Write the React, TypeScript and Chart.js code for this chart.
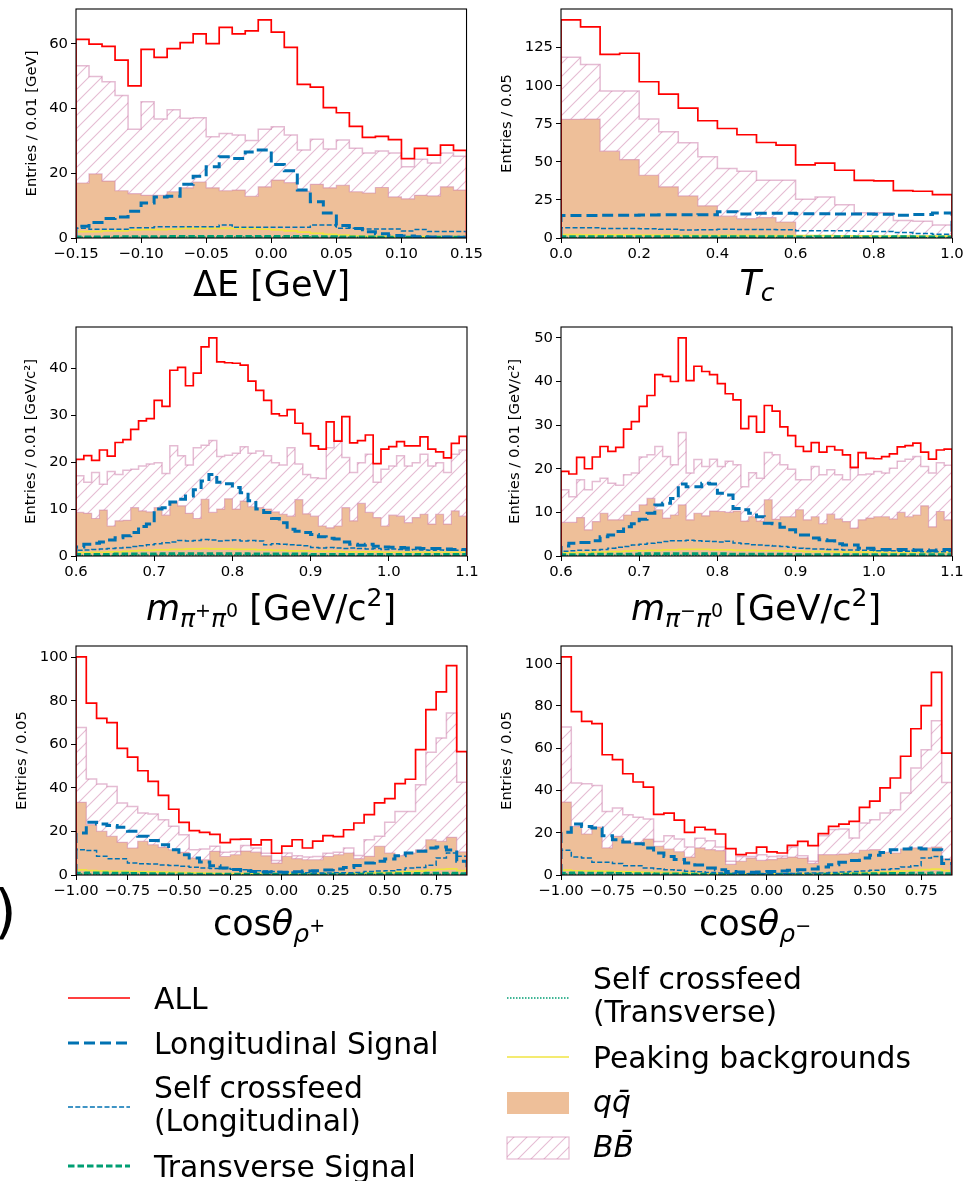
import React, { useEffect, useRef } from "react";
import { Chart, registerables } from "chart.js";
Chart.register(...registerables);

const FONT = "DejaVu Sans";
Chart.defaults.font.family = FONT;
Chart.defaults.color = "#000";

const RED = "#ff0000";
const BLUE = "#0072b2";
const GREEN = "#009e73";
const YELLOW = "#f0e442";
const QQ_FILL = "rgba(213,94,0,0.4)";
const BB_EDGE = "rgba(204,121,167,0.5)";

// ---------------- Panel 1: ΔE ----------------
const deRange = [-0.15, 0.15];
const deXTicks = [-0.15, -0.1, -0.05, 0, 0.05, 0.1, 0.15];
const deXLabels = ["−0.15", "−0.10", "−0.05", "0.00", "0.05", "0.10", "0.15"];
const deYTicks = [0, 20, 40, 60];
const deAll = [61.4, 59.9, 59.2, 55.0, 47.0, 58.3, 55.8, 58.5, 60.4, 63.1, 60.1, 65.1, 63.1, 64.0, 67.4, 63.6, 58.9, 47.5, 46.6, 40.3, 38.7, 34.5, 31.1, 31.4, 30.4, 24.5, 27.7, 25.6, 28.7, 27.1];
const deBBStack = [53.2, 49.9, 48.3, 44.0, 33.6, 42.1, 36.8, 39.6, 37.0, 37.2, 31.3, 32.3, 31.8, 30.1, 33.6, 34.4, 31.8, 27.2, 30.5, 27.5, 30.3, 27.7, 26.3, 26.9, 26.3, 22.0, 24.3, 23.2, 26.3, 25.3];
const deQQ = [17.0, 19.8, 17.6, 14.6, 13.7, 13.2, 13.2, 14.3, 15.5, 17.3, 15.5, 14.6, 14.8, 12.9, 15.8, 17.9, 17.1, 14.5, 16.6, 15.5, 16.3, 14.3, 13.9, 15.6, 12.7, 12.1, 13.2, 13.0, 15.8, 14.8];
const deLong = [3.6, 4.8, 6.0, 6.5, 8.3, 10.8, 12.7, 12.9, 16.6, 19.1, 22.0, 25.1, 24.6, 26.6, 27.2, 22.7, 20.8, 14.8, 11.2, 7.7, 3.9, 2.9, 1.9, 1.3, 0.8, 0.6, 0.4, 0.3, 0.3, 0.2];
const deScfL = [3.0, 2.7, 2.7, 2.7, 3.2, 3.2, 3.5, 3.5, 3.5, 3.5, 3.5, 4.0, 3.3, 3.3, 3.3, 3.3, 3.3, 3.3, 4.0, 4.0, 3.0, 3.0, 2.8, 2.8, 2.8, 2.2, 2.6, 2.0, 2.0, 2.0];
const deTrans = [0.3, 0.3, 0.3, 0.4, 0.4, 0.4, 0.4, 0.5, 0.5, 0.5, 0.5, 0.5, 0.5, 0.5, 0.5, 0.5, 0.5, 0.5, 0.4, 0.4, 0.3, 0.3, 0.3, 0.2, 0.2, 0.2, 0.2, 0.2, 0.2, 0.2];
const deScfT = [0.2, 0.2, 0.2, 0.2, 0.2, 0.2, 0.2, 0.2, 0.3, 0.3, 0.3, 0.3, 0.3, 0.3, 0.3, 0.3, 0.3, 0.3, 0.2, 0.2, 0.2, 0.2, 0.2, 0.2, 0.2, 0.1, 0.1, 0.1, 0.1, 0.1];
const dePeak = [2.0, 2.0, 2.2, 2.2, 2.5, 2.6, 2.6, 2.7, 3.0, 3.0, 3.0, 3.0, 3.0, 3.0, 2.7, 2.5, 2.2, 1.8, 1.4, 1.1, 0.9, 0.7, 0.5, 0.5, 0.5, 0.4, 0.4, 0.4, 0.4, 0.4];

// ---------------- Panel 2: T_c ----------------
const tcRange = [0, 1];
const tcXTicks = [0, 0.2, 0.4, 0.6, 0.8, 1.0];
const tcXLabels = ["0.0", "0.2", "0.4", "0.6", "0.8", "1.0"];
const tcYTicks = [0, 25, 50, 75, 100, 125];
const tcAll = [143.2, 138.6, 120.6, 121.3, 102.6, 94.5, 85.3, 77.0, 71.9, 67.8, 62.7, 61.0, 48.0, 49.1, 44.5, 37.9, 37.5, 31.1, 30.7, 28.5];
const tcBBStack = [118.6, 114.0, 96.5, 96.5, 78.1, 69.7, 62.5, 53.3, 45.6, 43.9, 37.9, 37.9, 25.4, 27.0, 21.9, 16.5, 16.5, 11.5, 11.0, 8.5];
const tcQQ = [77.9, 78.1, 57.0, 51.5, 41.2, 33.6, 27.6, 21.1, 14.3, 12.7, 13.4, 10.5, 0, 0, 0, 0, 0, 0, 0, 0];
const tcLong = [14.8, 14.8, 15.0, 15.0, 15.1, 15.3, 15.2, 15.3, 17.2, 15.8, 16.2, 16.2, 15.9, 15.9, 15.7, 15.7, 15.6, 15.0, 15.4, 16.4];
const tcScfL = [6.8, 6.8, 6.3, 6.3, 6.0, 5.8, 5.2, 5.4, 5.7, 5.6, 5.5, 5.4, 4.8, 4.8, 4.7, 4.4, 4.3, 3.6, 3.0, 2.4];
const tcTrans = [0.8, 0.9, 0.8, 0.8, 0.9, 0.8, 0.8, 0.8, 0.9, 0.8, 0.8, 0.8, 0.7, 0.8, 0.8, 0.7, 0.7, 0.8, 0.7, 0.7];
const tcScfT = [0.4, 0.4, 0.4, 0.4, 0.4, 0.3, 0.4, 0.3, 0.3, 0.3, 0.3, 0.3, 0.3, 0.3, 0.3, 0.3, 0.2, 0.3, 0.2, 0.2];
const tcPeak = [2.2, 2.1, 2.0, 2.0, 1.9, 1.9, 1.8, 1.8, 1.7, 1.7, 1.6, 1.6, 1.5, 1.5, 1.4, 1.4, 1.3, 1.3, 1.2, 1.2];

// ---------------- Panel 3: m(π+π0) ----------------
const mpRange = [0.6, 1.1];
const mpXTicks = [0.6, 0.7, 0.8, 0.9, 1.0, 1.1];
const mpXLabels = ["0.6", "0.7", "0.8", "0.9", "1.0", "1.1"];
const mpYTicks = [0, 10, 20, 30, 40];
const mpAll = [20.6, 21.4, 20.4, 22.6, 21.3, 24.2, 24.8, 27.0, 28.8, 29.3, 33.2, 31.9, 39.6, 40.2, 36.3, 39.0, 44.6, 46.5, 41.4, 41.2, 41.1, 40.7, 37.3, 35.3, 33.2, 30.3, 29.9, 31.2, 28.3, 26.1, 23.5, 22.8, 28.6, 24.5, 29.7, 24.1, 24.6, 25.8, 19.7, 22.8, 23.3, 24.4, 23.5, 23.5, 25.4, 22.8, 22.2, 20.9, 24.0, 25.5];
const mpBBStack = [17.1, 15.7, 17.8, 15.3, 18.0, 17.4, 18.3, 18.5, 19.2, 19.6, 19.9, 17.6, 23.5, 21.4, 19.4, 23.1, 23.6, 24.6, 21.2, 21.5, 21.9, 23.3, 21.9, 22.4, 21.4, 19.9, 19.4, 23.1, 19.6, 17.4, 16.7, 16.5, 23.1, 24.6, 21.0, 17.8, 19.9, 21.7, 15.7, 18.5, 19.2, 21.4, 19.2, 19.9, 21.7, 19.2, 19.9, 17.8, 21.7, 22.6];
const mpQQ = [9.3, 9.1, 8.0, 9.8, 6.4, 7.5, 7.6, 10.3, 9.6, 9.4, 10.3, 8.7, 11.4, 10.7, 9.1, 8.0, 12.1, 9.3, 10.0, 12.2, 10.0, 11.7, 10.5, 10.3, 10.0, 9.4, 8.9, 8.5, 12.0, 9.0, 8.5, 6.4, 6.0, 6.4, 10.3, 7.5, 11.2, 9.3, 8.2, 6.4, 8.7, 8.5, 7.1, 8.2, 8.9, 6.8, 8.9, 6.8, 9.6, 8.5];
const mpLong = [1.9, 2.5, 2.7, 3.0, 3.4, 3.9, 4.3, 5.0, 6.3, 6.8, 10.0, 10.3, 11.5, 12.1, 12.8, 14.1, 16.0, 17.4, 15.7, 15.4, 14.6, 13.5, 11.8, 10.0, 9.3, 8.0, 7.1, 5.7, 5.3, 5.0, 4.6, 4.1, 3.8, 3.6, 3.0, 2.5, 2.3, 2.5, 2.1, 1.9, 1.85, 1.8, 1.7, 1.7, 1.6, 1.6, 1.6, 1.5, 1.4, 1.4];
const mpScfL = [1.2, 1.3, 1.4, 1.5, 1.6, 1.7, 1.8, 2.0, 2.2, 2.4, 2.6, 2.8, 3.0, 3.3, 3.2, 3.3, 3.5, 3.4, 3.2, 3.3, 3.4, 3.2, 3.3, 3.2, 2.4, 2.6, 2.5, 2.4, 2.3, 2.2, 1.8, 1.7, 1.8, 1.7, 1.6, 1.7, 1.6, 1.5, 1.6, 1.4, 1.5, 1.4, 1.3, 1.4, 1.3, 1.2, 1.3, 1.2, 1.2, 1.2];
const mpTrans = [0.3, 0.3, 0.3, 0.3, 0.3, 0.4, 0.4, 0.4, 0.4, 0.4, 0.4, 0.5, 0.5, 0.5, 0.5, 0.5, 0.5, 0.5, 0.5, 0.5, 0.5, 0.5, 0.4, 0.4, 0.4, 0.4, 0.4, 0.4, 0.4, 0.4, 0.3, 0.3, 0.3, 0.3, 0.3, 0.3, 0.3, 0.3, 0.3, 0.3, 0.3, 0.3, 0.3, 0.3, 0.3, 0.3, 0.3, 0.3, 0.3, 0.3];
const mpScfT = [0.1, 0.1, 0.1, 0.1, 0.1, 0.1, 0.1, 0.2, 0.2, 0.2, 0.2, 0.2, 0.2, 0.2, 0.2, 0.2, 0.2, 0.2, 0.2, 0.2, 0.2, 0.2, 0.2, 0.2, 0.2, 0.2, 0.2, 0.2, 0.1, 0.1, 0.1, 0.1, 0.1, 0.1, 0.1, 0.1, 0.1, 0.1, 0.1, 0.1, 0.1, 0.1, 0.1, 0.1, 0.1, 0.1, 0.1, 0.1, 0.1, 0.1];
const mpPeak = [0.7, 0.7, 0.8, 0.8, 0.9, 0.9, 1.0, 1.1, 1.2, 1.2, 1.3, 1.3, 1.4, 1.4, 1.5, 1.5, 1.6, 1.5, 1.5, 1.5, 1.4, 1.4, 1.4, 1.3, 1.3, 1.2, 1.2, 1.1, 1.1, 1.1, 1.0, 1.0, 1.0, 1.0, 0.9, 0.9, 0.9, 0.9, 0.9, 0.8, 0.8, 0.8, 0.8, 0.8, 0.8, 0.8, 0.8, 0.8, 0.8, 0.8];

// ---------------- Panel 4: m(π−π0) ----------------
const mmRange = [0.6, 1.1];
const mmXTicks = [0.6, 0.7, 0.8, 0.9, 1.0, 1.1];
const mmXLabels = ["0.6", "0.7", "0.8", "0.9", "1.0", "1.1"];
const mmYTicks = [0, 10, 20, 30, 40, 50];
const mmAll = [19.4, 18.8, 22.6, 20.0, 22.7, 25.1, 24.0, 24.9, 29.1, 30.8, 34.3, 36.8, 41.6, 41.2, 40.0, 50.0, 40.2, 43.5, 42.3, 41.6, 39.5, 37.2, 35.8, 29.2, 32.0, 28.4, 34.5, 33.2, 29.6, 27.6, 25.1, 24.0, 26.0, 23.8, 25.1, 24.3, 23.2, 20.3, 23.7, 22.4, 22.3, 22.8, 23.4, 25.0, 25.3, 25.9, 23.8, 22.2, 24.3, 24.5];
const mmBBStack = [15.2, 13.6, 17.5, 15.2, 17.1, 17.8, 16.7, 16.2, 18.6, 19.0, 22.7, 23.2, 25.1, 22.8, 20.9, 28.3, 19.0, 22.1, 20.5, 22.2, 20.5, 21.7, 20.9, 15.9, 19.1, 17.8, 23.7, 23.2, 20.9, 19.9, 17.5, 17.5, 20.5, 18.6, 19.8, 18.6, 17.5, 20.1, 18.6, 18.8, 19.4, 19.0, 20.1, 21.7, 22.2, 22.8, 20.5, 19.0, 21.4, 20.8];
const mmQQ = [7.7, 7.7, 8.8, 6.0, 7.9, 9.8, 8.3, 8.3, 9.4, 10.2, 11.7, 13.2, 10.6, 8.7, 9.4, 11.7, 8.3, 9.8, 9.2, 10.3, 10.2, 10.0, 10.3, 8.0, 9.0, 8.0, 12.9, 8.4, 9.0, 9.0, 10.6, 8.3, 9.0, 7.4, 9.6, 8.5, 7.9, 6.4, 8.3, 8.7, 9.0, 9.0, 8.5, 10.0, 9.0, 9.4, 11.5, 6.7, 10.2, 8.3];
const mmLong = [2.3, 2.9, 3.1, 3.1, 3.5, 4.4, 4.8, 5.6, 6.7, 7.4, 8.4, 9.8, 11.7, 12.1, 13.2, 16.5, 15.9, 15.9, 16.7, 16.5, 14.4, 14.0, 10.9, 10.6, 9.8, 9.0, 7.5, 7.4, 6.6, 6.0, 4.8, 4.8, 4.1, 3.7, 3.5, 2.8, 2.5, 2.5, 1.8, 1.8, 1.5, 1.5, 1.5, 1.5, 1.5, 1.4, 1.4, 1.2, 1.4, 1.5];
const mmScfL = [1.1, 1.2, 1.3, 1.3, 1.4, 1.5, 1.8, 2.0, 2.2, 2.5, 2.7, 2.9, 3.1, 3.3, 3.5, 3.5, 3.6, 3.5, 3.4, 3.3, 3.2, 3.4, 3.0, 2.8, 2.6, 2.5, 2.4, 2.3, 2.2, 2.0, 1.8, 1.7, 1.6, 1.6, 1.5, 1.5, 1.4, 1.4, 1.3, 1.3, 1.2, 1.2, 1.2, 1.1, 1.1, 1.1, 1.0, 1.0, 1.0, 1.0];
const mmTrans = [0.3, 0.3, 0.3, 0.3, 0.4, 0.4, 0.4, 0.4, 0.4, 0.4, 0.5, 0.5, 0.5, 0.5, 0.5, 0.5, 0.5, 0.5, 0.5, 0.5, 0.5, 0.4, 0.4, 0.4, 0.4, 0.4, 0.4, 0.4, 0.4, 0.3, 0.3, 0.3, 0.3, 0.3, 0.3, 0.3, 0.3, 0.3, 0.3, 0.3, 0.3, 0.3, 0.3, 0.3, 0.3, 0.3, 0.3, 0.3, 0.3, 0.3];
const mmScfT = [0.1, 0.1, 0.1, 0.1, 0.1, 0.1, 0.2, 0.2, 0.2, 0.2, 0.2, 0.2, 0.2, 0.2, 0.2, 0.2, 0.2, 0.2, 0.2, 0.2, 0.2, 0.2, 0.2, 0.2, 0.2, 0.2, 0.2, 0.1, 0.1, 0.1, 0.1, 0.1, 0.1, 0.1, 0.1, 0.1, 0.1, 0.1, 0.1, 0.1, 0.1, 0.1, 0.1, 0.1, 0.1, 0.1, 0.1, 0.1, 0.1, 0.1];
const mmPeak = [0.7, 0.7, 0.8, 0.8, 0.9, 0.9, 1.0, 1.0, 1.1, 1.2, 1.2, 1.3, 1.3, 1.4, 1.4, 1.5, 1.5, 1.5, 1.5, 1.4, 1.4, 1.4, 1.3, 1.3, 1.3, 1.2, 1.2, 1.2, 1.1, 1.1, 1.1, 1.0, 1.0, 1.0, 1.0, 0.9, 0.9, 0.9, 0.9, 0.9, 0.9, 0.8, 0.8, 0.8, 0.8, 0.8, 0.8, 0.8, 0.8, 0.8];

// ---------------- Panel 5: cosθ(ρ+) ----------------
const cpRange = [-1.0, 0.9];
const cpXTicks = [-1.0, -0.75, -0.5, -0.25, 0, 0.25, 0.5, 0.75];
const cpXLabels = ["−1.00", "−0.75", "−0.50", "−0.25", "0.00", "0.25", "0.50", "0.75"];
const cpYTicks = [0, 20, 40, 60, 80, 100];
const cpAll = [100.2, 79.0, 72.0, 70.0, 58.2, 54.2, 47.9, 43.0, 36.6, 30.2, 24.2, 20.4, 19.6, 18.7, 14.9, 16.4, 16.5, 13.8, 16.1, 10.0, 13.3, 16.2, 12.4, 15.6, 18.1, 17.6, 20.8, 23.9, 27.7, 33.1, 35.1, 42.0, 44.0, 57.6, 76.0, 84.1, 96.2, 56.7];
const cpBBStack = [67.8, 44.1, 41.8, 40.7, 33.1, 31.5, 28.5, 28.0, 25.4, 22.4, 18.5, 11.6, 11.9, 13.2, 10.5, 10.8, 13.5, 12.4, 10.0, 6.7, 10.1, 8.8, 8.3, 8.5, 10.0, 10.5, 12.4, 9.0, 16.2, 17.8, 24.2, 29.2, 29.2, 41.5, 56.4, 62.9, 74.4, 42.6];
const cpQQ = [33.4, 23.1, 20.1, 17.8, 15.0, 12.4, 15.5, 13.9, 12.7, 11.6, 10.4, 7.8, 7.0, 10.9, 8.5, 9.3, 11.0, 10.5, 8.8, 5.5, 8.5, 7.5, 7.0, 7.0, 8.5, 9.3, 10.1, 7.5, 8.6, 13.2, 10.1, 8.9, 10.1, 11.6, 16.2, 15.5, 17.3, 10.6];
const cpLong = [19.3, 24.2, 23.4, 22.7, 21.9, 20.1, 17.8, 15.8, 13.9, 11.6, 9.3, 7.8, 6.0, 4.3, 3.2, 2.5, 2.0, 1.6, 1.4, 1.3, 1.3, 1.5, 1.8, 2.0, 2.3, 2.8, 3.5, 4.4, 5.5, 6.3, 7.4, 8.9, 10.1, 10.9, 12.4, 12.9, 11.5, 6.3];
const cpScfL = [11.6, 11.2, 8.6, 7.5, 7.5, 5.5, 5.2, 5.0, 4.6, 4.4, 4.0, 3.6, 3.2, 3.0, 3.0, 2.6, 2.4, 2.0, 1.8, 1.6, 1.4, 1.2, 1.0, 0.9, 0.9, 1.0, 1.0, 1.2, 1.6, 1.8, 2.0, 2.4, 3.2, 3.5, 4.5, 7.8, 10.1, 8.6];
const cpTrans = [0.8, 0.9, 0.9, 0.8, 0.8, 0.7, 0.7, 0.6, 0.6, 0.5, 0.5, 0.4, 0.4, 0.4, 0.3, 0.3, 0.3, 0.3, 0.3, 0.3, 0.3, 0.3, 0.3, 0.3, 0.3, 0.4, 0.4, 0.4, 0.5, 0.5, 0.6, 0.6, 0.7, 0.7, 0.8, 0.8, 0.8, 0.6];
const cpScfT = [0.5, 0.5, 0.4, 0.4, 0.4, 0.3, 0.3, 0.3, 0.3, 0.2, 0.2, 0.2, 0.2, 0.2, 0.2, 0.1, 0.1, 0.1, 0.1, 0.1, 0.1, 0.1, 0.1, 0.1, 0.1, 0.2, 0.2, 0.2, 0.2, 0.2, 0.2, 0.3, 0.3, 0.3, 0.4, 0.4, 0.5, 0.4];
const cpPeak = [2.4, 2.0, 1.8, 1.7, 1.7, 1.6, 1.5, 1.4, 1.3, 1.2, 1.1, 1.0, 0.9, 0.8, 0.7, 0.7, 0.6, 0.6, 0.6, 0.6, 0.6, 0.6, 0.6, 0.7, 0.7, 0.8, 0.8, 0.9, 1.0, 1.1, 1.2, 1.4, 1.6, 1.8, 2.2, 2.6, 2.8, 2.0];

// ---------------- Panel 6: cosθ(ρ−) ----------------
const cmRange = [-1.0, 0.9];
const cmXTicks = [-1.0, -0.75, -0.5, -0.25, 0, 0.25, 0.5, 0.75];
const cmXLabels = ["−1.00", "−0.75", "−0.50", "−0.25", "0.00", "0.25", "0.50", "0.75"];
const cmYTicks = [0, 20, 40, 60, 80, 100];
const cmAll = [103.2, 77.3, 72.7, 71.6, 56.9, 54.6, 47.9, 44.0, 41.6, 28.7, 29.3, 26.0, 20.2, 22.6, 21.5, 19.4, 12.5, 9.6, 10.4, 13.2, 10.9, 10.4, 14.0, 15.9, 13.9, 19.6, 23.0, 24.1, 25.4, 32.0, 35.0, 41.2, 45.9, 56.2, 69.2, 80.1, 95.9, 57.7];
const cmBBStack = [70.0, 43.5, 43.2, 42.3, 30.1, 31.7, 28.5, 27.3, 26.5, 15.9, 18.6, 17.0, 13.2, 17.4, 16.2, 13.2, 6.5, 8.8, 8.8, 9.6, 8.8, 9.0, 13.2, 9.1, 6.5, 18.6, 21.5, 21.8, 17.5, 24.6, 26.2, 29.3, 30.9, 38.8, 50.6, 59.3, 73.0, 43.8];
const cmQQ = [34.5, 23.0, 19.4, 22.7, 12.8, 18.3, 15.1, 15.5, 17.0, 13.6, 12.3, 11.0, 8.5, 12.8, 12.0, 11.5, 5.0, 6.5, 8.0, 6.9, 7.3, 8.0, 8.5, 8.0, 5.5, 9.6, 9.6, 9.9, 10.4, 11.7, 12.0, 10.7, 10.4, 12.3, 12.8, 12.8, 13.2, 7.6];
const cmLong = [20.2, 24.1, 23.0, 22.2, 18.6, 16.7, 15.6, 14.8, 12.8, 10.4, 8.8, 7.3, 5.7, 4.7, 3.3, 2.5, 1.7, 1.4, 1.3, 1.4, 1.6, 1.9, 2.2, 2.5, 2.8, 3.8, 4.9, 6.0, 6.9, 8.0, 9.3, 10.7, 12.0, 12.3, 12.8, 12.3, 12.0, 5.5];
const cmScfL = [11.7, 8.5, 8.0, 6.0, 6.0, 5.4, 4.4, 4.4, 3.3, 3.0, 2.5, 2.2, 1.8, 1.5, 1.2, 1.0, 0.8, 0.7, 0.6, 0.6, 0.6, 0.6, 0.7, 0.8, 0.9, 1.0, 1.2, 1.4, 1.6, 1.9, 2.2, 2.6, 3.0, 3.8, 4.4, 8.0, 8.8, 7.3];
const cmTrans = [0.8, 0.9, 0.8, 0.8, 0.8, 0.7, 0.7, 0.6, 0.6, 0.5, 0.5, 0.5, 0.4, 0.4, 0.3, 0.3, 0.3, 0.3, 0.3, 0.3, 0.3, 0.3, 0.3, 0.3, 0.3, 0.4, 0.4, 0.4, 0.5, 0.5, 0.6, 0.6, 0.7, 0.7, 0.8, 0.8, 0.9, 0.6];
const cmScfT = [0.5, 0.4, 0.4, 0.4, 0.4, 0.3, 0.3, 0.3, 0.3, 0.2, 0.2, 0.2, 0.2, 0.2, 0.1, 0.1, 0.1, 0.1, 0.1, 0.1, 0.1, 0.1, 0.1, 0.1, 0.1, 0.2, 0.2, 0.2, 0.2, 0.2, 0.3, 0.3, 0.3, 0.3, 0.4, 0.4, 0.5, 0.4];
const cmPeak = [2.3, 2.0, 1.9, 1.8, 1.7, 1.6, 1.5, 1.4, 1.3, 1.2, 1.1, 1.0, 0.9, 0.8, 0.7, 0.7, 0.6, 0.6, 0.6, 0.6, 0.6, 0.6, 0.6, 0.7, 0.7, 0.8, 0.8, 0.9, 1.0, 1.1, 1.2, 1.4, 1.6, 1.9, 2.2, 2.5, 2.8, 2.1];

// ---------------- layout ----------------
const PAD_TOP = 12;
const Y_AXIS_W = 76;
const PLOT_W = 391;
const PLOT_H = 229;
const X_AXIS_H = 30;
const PAD_RIGHT = 18;
const CANVAS_W = Y_AXIS_W + PLOT_W + PAD_RIGHT;
const CANVAS_H = PAD_TOP + PLOT_H + X_AXIS_H;
const TICK_SIZE = 14.8;

const panels = [
  { id: "de", left: 0, top: 9 - PAD_TOP, range: deRange, xTicks: deXTicks, xLabels: deXLabels, yTicks: deYTicks, yTitle: "Entries / 0.01 [GeV]", titleCenter: 32,
    all: deAll, bb: deBBStack, qq: deQQ, long: deLong, scfL: deScfL, trans: deTrans, scfT: deScfT, peak: dePeak },
  { id: "tc", left: 485, top: 9 - PAD_TOP, range: tcRange, xTicks: tcXTicks, xLabels: tcXLabels, yTicks: tcYTicks, yTitle: "Entries / 0.05", titleCenter: 22,
    all: tcAll, bb: tcBBStack, qq: tcQQ, long: tcLong, scfL: tcScfL, trans: tcTrans, scfT: tcScfT, peak: tcPeak },
  { id: "mp", left: 0, top: 327 - PAD_TOP, range: mpRange, xTicks: mpXTicks, xLabels: mpXLabels, yTicks: mpYTicks, yTitle: "Entries / 0.01 [GeV/c²]", titleCenter: 31,
    all: mpAll, bb: mpBBStack, qq: mpQQ, long: mpLong, scfL: mpScfL, trans: mpTrans, scfT: mpScfT, peak: mpPeak },
  { id: "mm", left: 485, top: 327 - PAD_TOP, range: mmRange, xTicks: mmXTicks, xLabels: mmXLabels, yTicks: mmYTicks, yTitle: "Entries / 0.01 [GeV/c²]", titleCenter: 30,
    all: mmAll, bb: mmBBStack, qq: mmQQ, long: mmLong, scfL: mmScfL, trans: mmTrans, scfT: mmScfT, peak: mmPeak },
  { id: "cp", left: 0, top: 646 - PAD_TOP, range: cpRange, xTicks: cpXTicks, xLabels: cpXLabels, yTicks: cpYTicks, yTitle: "Entries / 0.05", titleCenter: 22,
    all: cpAll, bb: cpBBStack, qq: cpQQ, long: cpLong, scfL: cpScfL, trans: cpTrans, scfT: cpScfT, peak: cpPeak },
  { id: "cm", left: 485, top: 646 - PAD_TOP, range: cmRange, xTicks: cmXTicks, xLabels: cmXLabels, yTicks: cmYTicks, yTitle: "Entries / 0.05", titleCenter: 22,
    all: cmAll, bb: cmBBStack, qq: cmQQ, long: cmLong, scfL: cmScfL, trans: cmTrans, scfT: cmScfT, peak: cmPeak },
];

function stairs(range: number[], vals: number[]) {
  const lo = range[0];
  const hi = range[1];
  const w = (hi - lo) / vals.length;
  const pts: { x: number; y: number }[] = [{ x: lo, y: 0 }];
  vals.forEach((v, i) => {
    pts.push({ x: lo + i * w, y: v });
    pts.push({ x: lo + (i + 1) * w, y: v });
  });
  pts.push({ x: hi, y: 0 });
  return pts;
}

function makeHatch(): any {
  const s = 13;
  const c = document.createElement("canvas");
  c.width = s;
  c.height = s;
  const g = c.getContext("2d");
  if (!g) return "transparent";
  g.strokeStyle = BB_EDGE;
  g.lineWidth = 1.1;
  g.beginPath();
  g.moveTo(-2, s + 2);
  g.lineTo(s + 2, -2);
  g.moveTo(-2, 2);
  g.lineTo(2, -2);
  g.moveTo(s - 2, s + 2);
  g.lineTo(s + 2, s - 2);
  g.stroke();
  return g.createPattern(c, "repeat");
}

const framePlugin = {
  id: "frame",
  afterDraw(chart: any) {
    const { ctx, chartArea: a } = chart;
    ctx.save();
    ctx.strokeStyle = "#000";
    ctx.lineWidth = 1.1;
    ctx.strokeRect(a.left, a.top, a.right - a.left, a.bottom - a.top);
    ctx.restore();
  },
};

function buildConfig(p: any): any {
  const yMax = Math.max(...p.all) * 1.05;
  const line = (label: string, vals: number[], color: string, width: number, dash: number[], order: number) => ({
    label,
    data: stairs(p.range, vals),
    borderColor: color,
    borderWidth: width,
    borderDash: dash,
    fill: false,
    pointRadius: 0,
    tension: 0,
    order,
  });
  return {
    type: "line",
    data: {
      datasets: [
        line("ALL", p.all, RED, 1.7, [], 0),
        line("Longitudinal Signal", p.long, BLUE, 3, [11, 5], 1),
        line("Self crossfeed (Longitudinal)", p.scfL, BLUE, 1.5, [5, 2.3], 2),
        line("Transverse Signal", p.trans, GREEN, 3, [6.5, 3], 3),
        line("Self crossfeed (Transverse)", p.scfT, GREEN, 1.5, [1.5, 1.5], 4),
        line("Peaking backgrounds", p.peak, YELLOW, 1.7, [], 5),
        {
          label: "qq̄",
          data: stairs(p.range, p.qq),
          borderColor: BB_EDGE,
          borderWidth: 1.2,
          backgroundColor: QQ_FILL,
          fill: "origin",
          pointRadius: 0,
          tension: 0,
          order: 9,
        },
        {
          label: "BB̄",
          data: stairs(p.range, p.bb),
          borderColor: BB_EDGE,
          borderWidth: 1.5,
          backgroundColor: makeHatch(),
          fill: "-1",
          pointRadius: 0,
          tension: 0,
          order: 8,
        },
      ],
    },
    options: {
      animation: false,
      responsive: false,
      devicePixelRatio: 1,
      events: [],
      layout: { padding: { left: 0, top: PAD_TOP, right: PAD_RIGHT, bottom: 0 } },
      plugins: { legend: { display: false }, tooltip: { enabled: false } },
      scales: {
        x: {
          type: "linear",
          min: p.range[0],
          max: p.range[1],
          afterFit: (s: any) => {
            s.height = X_AXIS_H;
          },
          afterBuildTicks: (s: any) => {
            s.ticks = p.xTicks.map((v: number) => ({ value: v }));
          },
          ticks: {
            autoSkip: false,
            maxRotation: 0,
            padding: 2,
            color: "#000",
            font: { family: FONT, size: TICK_SIZE },
            callback: (_v: any, i: number) => p.xLabels[i],
          },
          grid: { drawOnChartArea: false, drawTicks: true, tickLength: 5, color: "#000", lineWidth: 1 },
          border: { display: false },
        },
        y: {
          type: "linear",
          min: 0,
          max: yMax,
          afterFit: (s: any) => {
            s.width = Y_AXIS_W;
          },
          afterBuildTicks: (s: any) => {
            s.ticks = p.yTicks.map((v: number) => ({ value: v }));
          },
          ticks: {
            autoSkip: false,
            padding: 3,
            color: "#000",
            font: { family: FONT, size: TICK_SIZE },
            callback: (v: any) => String(v),
          },
          grid: { drawOnChartArea: false, drawTicks: true, tickLength: 5, color: "#000", lineWidth: 1 },
          border: { display: false },
          title: {
            display: true,
            text: p.yTitle,
            color: "#000",
            font: { family: FONT, size: 14.8 },
            padding: { top: p.titleCenter - 8.9, bottom: 0 },
          },
        },
      },
    },
    plugins: [framePlugin],
  };
}

function PanelChart({ p }: { p: any }) {
  const ref = useRef<HTMLCanvasElement | null>(null);
  useEffect(() => {
    if (!ref.current) return;
    const chart = new Chart(ref.current, buildConfig(p));
    return () => chart.destroy();
  }, []);
  return (
    <canvas
      ref={ref}
      width={CANVAS_W}
      height={CANVAS_H}
      style={{ position: "absolute", left: p.left, top: p.top, width: CANVAS_W, height: CANVAS_H, display: "block" }}
    />
  );
}

const XT = 35;
const SUB = 25;
const SUBSUP = 19;

function Overlay() {
  const t = { whiteSpace: "pre" as const };
  return (
    <svg width={966} height={1181} style={{ position: "absolute", left: 0, top: 0, pointerEvents: "none" }} fontFamily={FONT}>
      <defs>
        <pattern id="hatch" width="13" height="13" patternUnits="userSpaceOnUse">
          <path d="M-2,15 L15,-2 M-2,2 L2,-2 M11,15 L15,11" stroke={BB_EDGE} strokeWidth={1.1} />
        </pattern>
      </defs>

      {/* x-axis titles */}
      <text x={271.5} y={296} fontSize={XT} textAnchor="middle" style={t}>ΔE [GeV]</text>
      <text x={757} y={295} fontSize={XT} textAnchor="middle" style={t}>
        <tspan fontStyle="italic">T</tspan>
        <tspan fontStyle="italic" fontSize={SUB} dy={6}>c</tspan>
      </text>
      <text x={271} y={620} fontSize={XT} textAnchor="middle" style={t}>
        <tspan fontStyle="italic">m</tspan>
        <tspan fontStyle="italic" fontSize={SUB} dy={7}>π</tspan>
        <tspan fontSize={SUBSUP} dy={-10}>+</tspan>
        <tspan fontStyle="italic" fontSize={SUB} dy={10}>π</tspan>
        <tspan fontSize={SUBSUP} dy={-10}>0</tspan>
        <tspan dy={3}>{" [GeV/c"}</tspan>
        <tspan fontSize={SUB} dy={-14}>2</tspan>
        <tspan dy={14}>]</tspan>
      </text>
      <text x={756} y={620} fontSize={XT} textAnchor="middle" style={t}>
        <tspan fontStyle="italic">m</tspan>
        <tspan fontStyle="italic" fontSize={SUB} dy={7}>π</tspan>
        <tspan fontSize={SUBSUP} dy={-10}>−</tspan>
        <tspan fontStyle="italic" fontSize={SUB} dy={10}>π</tspan>
        <tspan fontSize={SUBSUP} dy={-10}>0</tspan>
        <tspan dy={3}>{" [GeV/c"}</tspan>
        <tspan fontSize={SUB} dy={-14}>2</tspan>
        <tspan dy={14}>]</tspan>
      </text>
      <text x={269} y={935} fontSize={XT} textAnchor="middle" style={t}>
        <tspan>cos</tspan>
        <tspan fontStyle="italic">θ</tspan>
        <tspan fontStyle="italic" fontSize={SUB} dy={7}>ρ</tspan>
        <tspan fontSize={SUBSUP} dy={-10}>+</tspan>
      </text>
      <text x={755} y={935} fontSize={XT} textAnchor="middle" style={t}>
        <tspan>cos</tspan>
        <tspan fontStyle="italic">θ</tspan>
        <tspan fontStyle="italic" fontSize={SUB} dy={7}>ρ</tspan>
        <tspan fontSize={SUBSUP} dy={-10}>−</tspan>
      </text>

      {/* stray parenthesis at the left edge */}
      <text x={-6} y={932} fontSize={58} style={t}>)</text>

      {/* legend: left column */}
      <g fontSize={29.8}>
        <line x1={68} x2={130} y1={998} y2={998} stroke={RED} strokeWidth={1.7} />
        <text x={154} y={1009}>ALL</text>

        <line x1={68} x2={130} y1={1043} y2={1043} stroke={BLUE} strokeWidth={3} strokeDasharray="11 5" />
        <text x={154} y={1054}>Longitudinal Signal</text>

        <line x1={68} x2={130} y1={1107} y2={1107} stroke={BLUE} strokeWidth={1.5} strokeDasharray="5 2.3" />
        <text x={154} y={1098}>Self crossfeed</text>
        <text x={154} y={1131}>(Longitudinal)</text>

        <line x1={68} x2={130} y1={1166} y2={1166} stroke={GREEN} strokeWidth={3} strokeDasharray="6.5 3" />
        <text x={154} y={1177}>Transverse Signal</text>

        {/* right column */}
        <line x1={507} x2={569} y1={998} y2={998} stroke={GREEN} strokeWidth={1.5} strokeDasharray="1.5 1.5" />
        <text x={593} y={989}>Self crossfeed</text>
        <text x={593} y={1022}>(Transverse)</text>

        <line x1={507} x2={569} y1={1057} y2={1057} stroke={YELLOW} strokeWidth={1.7} />
        <text x={593} y={1068}>Peaking backgrounds</text>

        <rect x={507} y={1092} width={62} height={22} fill={QQ_FILL} />
        <text x={593} y={1112} fontStyle="italic">{"qq\u0304"}</text>

        <rect x={507} y={1137} width={62} height={22} fill="url(#hatch)" stroke={BB_EDGE} strokeWidth={1.2} />
        <text x={593} y={1157} fontStyle="italic">{"BB\u0304"}</text>
      </g>
    </svg>
  );
}

export default function App() {
  return (
    <div style={{ position: "absolute", left: 0, top: 0, width: 966, height: 1181, overflow: "hidden", background: "#fff" }}>
      {panels.map((p) => (
        <PanelChart key={p.id} p={p} />
      ))}
      <Overlay />
    </div>
  );
}
